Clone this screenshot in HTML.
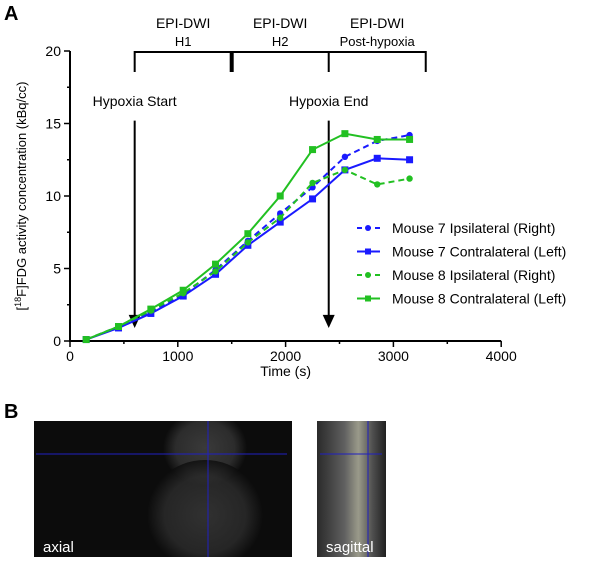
<!DOCTYPE html>
<html><head><meta charset="utf-8"><style>
body{margin:0;background:#fff;width:600px;height:557px;overflow:hidden}
svg text{font-family:"Liberation Sans",sans-serif}
</style></head><body>
<svg id="c" width="600" height="557" xmlns="http://www.w3.org/2000/svg">
<defs>
<radialGradient id="g1" cx="0.5" cy="0.5" r="0.5"><stop offset="0" stop-color="#3a3a3a"/><stop offset="0.7" stop-color="#2c2c2c"/><stop offset="1" stop-color="#0c0c0c"/></radialGradient>
<linearGradient id="g2" x1="0" x2="1"><stop offset="0" stop-color="#2a2a2a"/><stop offset="0.4" stop-color="#606060"/><stop offset="0.6" stop-color="#9a9a8a"/><stop offset="0.8" stop-color="#505050"/><stop offset="1" stop-color="#202020"/></linearGradient>
<clipPath id="cl"><rect x="34" y="421" width="258" height="136"/></clipPath>
</defs>
<text x="4" y="20" font-size="20" font-weight="bold">A</text>
<text x="4" y="418" font-size="20" font-weight="bold">B</text>
<g id="chart"></g>
<g>
<rect x="34" y="421" width="258" height="136" fill="#0c0c0c"/>
<g clip-path="url(#cl)">
<ellipse cx="205" cy="448" rx="42" ry="38" fill="url(#g1)"/>
<ellipse cx="205" cy="515" rx="58" ry="55" fill="url(#g1)" opacity="0.8"/>
</g>
<line x1="36" y1="454" x2="287" y2="454" stroke="#2020c0" stroke-width="1"/>
<line x1="208" y1="421" x2="208" y2="557" stroke="#2020c0" stroke-width="1"/>
<text x="43" y="552" font-size="15" fill="#fff">axial</text>
</g>
<g>
<rect x="317" y="421" width="69" height="136" fill="url(#g2)"/>
<line x1="320" y1="454" x2="382" y2="454" stroke="#2020c0"/>
<line x1="368" y1="421" x2="368" y2="557" stroke="#2020c0"/>
<text x="326" y="552" font-size="15" fill="#fff">sagittal</text>
</g>
</svg>
<script>
const times=[150,450,750,1050,1350,1650,1950,2250,2550,2850,3150];
const m7ipsi=[0.1,1.0,2.0,3.2,4.9,6.9,8.8,10.6,12.7,13.8,14.2];
const m7contra=[0.1,0.9,1.9,3.1,4.6,6.6,8.2,9.8,11.8,12.6,12.5];
const m8ipsi=[0.1,1.0,2.1,3.3,4.8,6.8,8.5,10.9,11.8,10.8,11.2];
const m8contra=[0.1,1.0,2.2,3.5,5.3,7.4,10.0,13.2,14.3,13.9,13.9];
const xTicks=[0,1000,2000,3000,4000];
const yTicks=[0,5,10,15,20];
const seriesNames=["Mouse 7 Ipsilateral (Right)","Mouse 7 Contralateral (Left)","Mouse 8 Ipsilateral (Right)","Mouse 8 Contralateral (Left)"];
const NS="http://www.w3.org/2000/svg";
const X=v=>70+v*0.1078, Y=v=>341-v*14.5;
const g=document.getElementById('chart');
function mk(t,a,p){const e=document.createElementNS(NS,t);for(const k in a)e.setAttribute(k,a[k]);(p||g).appendChild(e);return e;}
let ax=mk('line',{x1:X(0),y1:Y(0),x2:X(4000),y2:Y(0),stroke:'#000','stroke-width':2});

let ay=mk('line',{x1:X(0),y1:Y(0)+1,x2:X(0),y2:Y(20),stroke:'#000','stroke-width':2});

for(let v=0;v<=4000;v+=500){mk('line',{x1:X(v),y1:Y(0),x2:X(v),y2:Y(0)+(v%1000?3:6),stroke:'#000','stroke-width':1.5});}
for(let v=0;v<=20;v+=2.5){mk('line',{x1:X(0),y1:Y(v),x2:X(0)-(v%5?3:6),y2:Y(v),stroke:'#000','stroke-width':1.5});}
xTicks.forEach(v=>{const t=mk('text',{x:X(v),y:Y(0)+20,'font-size':14,'text-anchor':'middle'});t.textContent=v;
});
yTicks.forEach(v=>{const t=mk('text',{x:X(0)-9,y:Y(v)+5,'font-size':14,'text-anchor':'end'});t.textContent=v;
});
let xt=mk('text',{x:X(2000),y:376,'font-size':14,'text-anchor':'middle'});xt.textContent='Time (s)';

let yt=mk('text',{x:0,y:0,'font-size':13,'text-anchor':'middle',transform:'translate(26,196) rotate(-90)'});
yt.innerHTML='[<tspan baseline-shift="super" font-size="9">18</tspan>F]FDG activity concentration (kBq/cc)';

[[600,'Hypoxia Start'],[2400,'Hypoxia End']].forEach(([v,l])=>{
 const a=mk('line',{x1:X(v),y1:Y(15.2),x2:X(v),y2:Y(1.5),stroke:'#000','stroke-width':2});
 
 mk('polygon',{points:`${X(v)-6},${Y(1.8)} ${X(v)+6},${Y(1.8)} ${X(v)},${Y(0.9)}`,fill:'#000'});
 const t=mk('text',{x:X(v),y:106,'font-size':14,'text-anchor':'middle'});t.textContent=l;
 });
const bt=52;
mk('path',{d:`M${X(600)},72 V${bt} H${X(3300)} V72 M${X(2400)},${bt} V72`,stroke:'#000','stroke-width':2,fill:'none'});
mk('line',{x1:X(1500),y1:bt,x2:X(1500),y2:72,stroke:'#000','stroke-width':4});
[[1050,'EPI-DWI','H1'],[1950,'EPI-DWI','H2'],[2850,'EPI-DWI','Post-hypoxia']].forEach(([v,a,b])=>{
 const t=mk('text',{x:X(v),y:28,'font-size':14,'text-anchor':'middle'});t.textContent=a;
 
 const t2=mk('text',{x:X(v),y:46,'font-size':13,'text-anchor':'middle'});t2.textContent=b;
 });
const series=[[m7ipsi,'#1a1aff',true,'c'],[m7contra,'#1a1aff',false,'s'],[m8ipsi,'#22c022',true,'c'],[m8contra,'#22c022',false,'s']];
series.forEach(([d,c,dash,m],i)=>{
 const sg=mk('g',{});
 
 mk('polyline',{points:d.map((v,j)=>X(times[j])+','+Y(v)).join(' '),fill:'none',stroke:c,'stroke-width':2,'stroke-dasharray':dash?'6,4':'none'},sg);
 d.forEach((v,j)=>{
  const p=m=='c'?mk('circle',{cx:X(times[j]),cy:Y(v),r:3.2,fill:c},sg):mk('rect',{x:X(times[j])-3.5,y:Y(v)-3.5,width:7,height:7,fill:c},sg);
  });
 const ly=228+i*23.5;
 const lg=mk('g',{});
 
 mk('line',{x1:357,y1:ly,x2:380,y2:ly,stroke:c,'stroke-width':2,'stroke-dasharray':dash?'5,4':'none'},lg);
 if(m=='c')mk('circle',{cx:368,cy:ly,r:3,fill:c},lg);else mk('rect',{x:365,y:ly-3,width:6,height:6,fill:c},lg);
 const t=mk('text',{x:392,y:ly+5,'font-size':14},lg);t.textContent=seriesNames[i];
});
</script>
</body></html>
